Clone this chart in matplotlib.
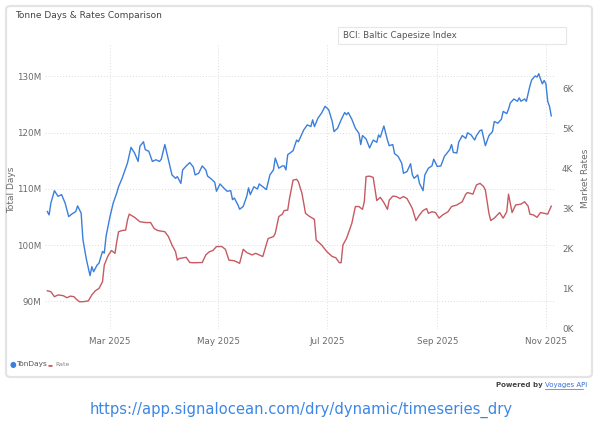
import numpy as np
import matplotlib
matplotlib.use("Agg")
import matplotlib.pyplot as plt
import matplotlib.dates as mdates
from matplotlib.patches import FancyBboxPatch, Rectangle
from matplotlib.ticker import FixedLocator

# ---- data (day of year 2025, values) ----
ton_doy = [25, 26, 27, 29, 31, 33, 35, 37, 39, 41, 42, 44, 45, 47, 49, 50, 51, 53, 54, 56,
           57, 58, 60, 62, 64, 65, 67, 69, 70, 72, 74, 76, 77, 79, 80, 82, 83, 84, 86, 88,
           89, 91, 93, 95, 97, 98, 100, 101, 103, 105, 107, 108, 110, 112, 114, 115, 117, 119, 120, 122,
           124, 126, 128, 129, 130, 132, 133, 135, 137, 138, 139, 141, 143, 144, 146, 148, 150, 152, 153, 155,
           157, 158, 159, 160, 163, 165, 166, 169, 171, 173, 174, 175, 177, 179, 181, 183, 185, 186, 188, 190,
           192, 193, 194, 196, 198, 200, 201, 202, 204, 206, 208, 210, 211, 212, 214, 216, 217, 219, 220, 222,
           224, 225, 227, 229, 230, 231, 233, 234, 236, 237, 239, 241, 242, 244, 246, 248, 251, 252, 253, 255,
           256, 258, 260, 261, 263, 265, 266, 268, 269, 271, 273, 275, 276, 278, 280, 281, 283, 284, 285, 287,
           289, 290, 291, 293, 294, 296, 297, 299, 300, 301, 302, 303, 304, 305, 306, 307, 308]
ton_days_m = [106.0, 105.4, 107.5, 109.7, 108.7, 109.0, 107.5, 105.1, 105.6, 106.0, 107.0, 105.7, 101.0, 97.4, 94.6, 96.2, 95.3, 96.5, 96.8, 98.9,
              98.6, 101.6, 104.8, 107.5, 109.3, 110.4, 111.9, 113.7, 114.6, 117.4, 116.4, 114.9, 117.6, 118.4, 117.0, 116.7, 115.8, 114.9, 115.2, 114.9,
              115.3, 117.9, 115.2, 112.5, 111.9, 112.2, 111.0, 113.4, 114.1, 114.7, 113.9, 112.5, 112.8, 114.1, 113.4, 112.3, 111.8, 111.2, 109.6, 110.9,
              110.2, 109.6, 109.7, 108.1, 108.4, 107.2, 106.4, 106.9, 108.7, 110.2, 109.0, 110.4, 110.0, 110.9, 110.4, 109.9, 112.5, 113.4, 115.5, 113.7,
              114.1, 114.1, 113.4, 116.1, 116.8, 118.7, 118.4, 120.5, 121.4, 121.1, 122.3, 121.1, 122.6, 123.5, 124.7, 124.1, 122.0, 120.2, 120.8, 122.3,
              123.6, 123.2, 123.6, 122.4, 120.8, 119.9, 117.9, 119.5, 118.9, 117.3, 118.7, 118.3, 119.6, 119.2, 121.2, 118.7, 117.7, 117.9, 116.3, 115.8,
              114.6, 112.8, 113.1, 114.5, 112.5, 111.9, 112.5, 111.0, 109.7, 112.5, 113.7, 114.1, 115.3, 114.0, 114.1, 115.8, 117.0, 117.9, 116.5, 116.4,
              118.3, 119.5, 119.0, 120.0, 119.6, 118.7, 119.5, 120.4, 120.5, 117.7, 119.5, 120.2, 122.0, 121.7, 122.4, 123.8, 123.4, 124.2, 125.3, 126.0,
              125.6, 126.2, 125.6, 126.0, 125.6, 128.3, 129.4, 130.1, 129.9, 130.5, 129.5, 128.7, 129.3, 128.7, 125.6, 124.7, 123.0]

rate_doy = [25, 27, 29, 31, 34, 36, 38, 40, 41, 43, 45, 48, 50, 52, 54, 56, 57, 59, 61, 63,
            64, 65, 67, 69, 70, 71, 74, 77, 80, 83, 85, 87, 91, 93, 95, 97, 98, 99, 103, 105,
            107, 112, 114, 116, 118, 120, 123, 125, 127, 130, 133, 135, 137, 140, 142, 144, 146, 149, 152, 153,
            155, 157, 158, 160, 161, 163, 165, 166, 168, 170, 172, 175, 176, 179, 182, 185, 187, 189, 190, 191,
            193, 195, 196, 198, 200, 202, 203, 204, 206, 208, 210, 212, 214, 216, 217, 219, 221, 223, 225, 227,
            230, 232, 234, 236, 238, 239, 241, 243, 245, 247, 250, 252, 255, 258, 260, 261, 264, 266, 268, 270,
            271, 273, 274, 276, 279, 281, 283, 284, 286, 288, 291, 293, 295, 296, 298, 300, 302, 304, 306, 308]
rate_k = [0.945, 0.92, 0.795, 0.84, 0.82, 0.77, 0.81, 0.795, 0.745, 0.67, 0.67, 0.69, 0.84, 0.945, 1.0, 1.17, 1.59, 1.81, 1.95, 1.88,
          2.17, 2.42, 2.45, 2.46, 2.71, 2.86, 2.78, 2.67, 2.65, 2.65, 2.5, 2.45, 2.42, 2.3, 2.09, 1.92, 1.71, 1.75, 1.78, 1.65,
          1.645, 1.65, 1.84, 1.92, 1.95, 2.05, 2.05, 1.98, 1.71, 1.695, 1.63, 1.98, 1.9, 1.84, 1.88, 1.84, 1.8, 2.25, 2.3, 2.38,
          2.8, 2.86, 2.95, 2.96, 3.25, 3.71, 3.73, 3.67, 3.38, 2.88, 2.81, 2.73, 2.21, 2.09, 1.92, 1.8, 1.77, 1.645, 1.645, 2.09,
          2.25, 2.5, 2.63, 3.05, 3.05, 2.98, 3.17, 3.8, 3.81, 3.78, 3.2, 3.28, 3.15, 2.98, 3.21, 3.31, 3.3, 3.25, 3.3, 3.25,
          3.0, 2.7, 2.84, 2.95, 3.0, 2.88, 2.92, 2.9, 2.76, 2.84, 2.92, 3.05, 3.09, 3.17, 3.36, 3.4, 3.36, 3.59, 3.63, 3.55,
          3.46, 2.88, 2.7, 2.76, 2.9, 2.76, 2.92, 3.36, 2.9, 3.09, 3.11, 3.17, 3.06, 2.86, 2.84, 2.78, 2.9, 2.88, 2.86, 3.06]

left_ticks_m = [90, 100, 110, 120, 130]
right_ticks_k = [0, 1, 2, 3, 4, 5, 6]
month_ticks = ["2025-03-01", "2025-05-01", "2025-07-01", "2025-09-01", "2025-11-01"]
month_labels = ["Mar 2025", "May 2025", "Jul 2025", "Sep 2025", "Nov 2025"]

# ---- style ----
BLUE = "#3a7fdc"
RED = "#c65a62"
GRAY = "#6b6b6b"
GRID = "#dcdcdc"

base = np.datetime64("2024-12-31")
ton_dates = base + np.array(ton_doy).astype("timedelta64[D]")
rate_dates = base + np.array(rate_doy).astype("timedelta64[D]")

fig = plt.figure(figsize=(6.0, 4.28), dpi=100)
fig.patch.set_facecolor("white")

# card background (drawn beneath everything)
card = FancyBboxPatch((6 / 600, 1 - 377 / 428), 586 / 600, 371 / 428,
                      boxstyle="round,pad=0,rounding_size=0.008",
                      transform=fig.transFigure, facecolor="white",
                      edgecolor="#e4e4e4", linewidth=1.6, zorder=-10)
fig.patches.append(card)

ax = fig.add_axes([45 / 600, 1 - 328.5 / 428, 510 / 600, (328.5 - 45) / 428])
ax.set_facecolor("none")
ax2 = ax.twinx()
ax2.set_facecolor("none")

ax.plot(ton_dates, ton_days_m, color=BLUE, lw=1.0, zorder=3)
ax2.plot(rate_dates, rate_k, color=RED, lw=1.0, zorder=3)

d0 = mdates.date2num(base)
ax.set_xlim(d0 + 23.7, d0 + 310.1)
ax.set_ylim(85.2, 135.6)
ax2.set_ylim(0, 7.09)

ax.xaxis.set_major_locator(FixedLocator(mdates.datestr2num(month_ticks)))
ax.set_xticklabels(month_labels)
ax.yaxis.set_major_locator(FixedLocator(left_ticks_m))
ax.set_yticklabels([f"{v}M" for v in left_ticks_m])
ax2.yaxis.set_major_locator(FixedLocator(right_ticks_k))
ax2.set_yticklabels([f"{v}K" for v in right_ticks_k])

for a in (ax, ax2):
    for s in a.spines.values():
        s.set_visible(False)
    a.tick_params(length=0, labelsize=6.3, colors=GRAY)
ax.tick_params(axis="x", pad=6)
ax.tick_params(axis="y", pad=3)
ax2.tick_params(axis="y", pad=5)

ax.grid(True, axis="both", color=GRID, linestyle=(0, (1, 2)), linewidth=0.7)
ax.set_axisbelow(True)

ax.set_ylabel("Total Days", fontsize=6.5, color=GRAY)
ax.yaxis.set_label_coords(-0.056, 0.49)
ax2.set_ylabel("Market Rates", fontsize=6.5, color=GRAY)
ax2.yaxis.set_label_coords(1.051, 0.53)

# title
fig.text(15 / 600, 1 - 16 / 428, "Tonne Days & Rates Comparison", fontsize=6.5,
         color="#444444", va="center", ha="left")

# BCI box
fig.patches.append(Rectangle((338 / 600, 1 - 44 / 428), 228 / 600, 17 / 428,
                             transform=fig.transFigure, facecolor="white",
                             edgecolor="#e6e6e6", lw=0.8, zorder=5))
fig.text(343 / 600, 1 - 35.5 / 428, "BCI: Baltic Capesize Index", fontsize=6.3,
         color="#555555", va="center", ha="left", zorder=6)

# legend
fig.text(13 / 600, 1 - 364 / 428, "\u25CF", fontsize=5.5, color=BLUE, va="center", ha="center")
fig.text(16.5 / 600, 1 - 364 / 428, "TonDays", fontsize=5.3, color="#555555", va="center", ha="left")
fig.text(50.5 / 600, 1 - 364.5 / 428, "\u25AC", fontsize=3.8, color=RED, va="center", ha="center")
fig.text(55 / 600, 1 - 365 / 428, "Rate", fontsize=4.5, color="#888888", va="center", ha="left")

# powered by
fig.text(545 / 600, 1 - 385 / 428, "Powered by ", fontsize=5.0, color="#444444",
         fontweight="bold", va="center", ha="right")
fig.text(545 / 600, 1 - 385 / 428, "Voyages API", fontsize=5.0, color="#3a6fd8",
         va="center", ha="left")
fig.add_artist(plt.Line2D([545 / 600, 583 / 600], [1 - 388.5 / 428, 1 - 388.5 / 428],
                          transform=fig.transFigure, color="#3a6fd8", lw=0.5))

# url
fig.text(301 / 600, 1 - 410 / 428, "https://app.signalocean.com/dry/dynamic/timeseries_dry",
         fontsize=10.6, color="#3b86e6", va="center", ha="center")

fig.savefig("out.png", dpi=100, facecolor="white")
